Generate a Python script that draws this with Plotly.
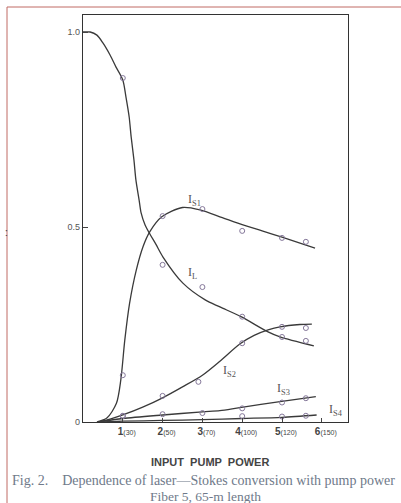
import plotly.graph_objects as go

# ---- data ----
tick_vals = [1, 2, 3, 4, 5, 6]
tick_main = ["1", "2", "3", "4", "5", "6"]
tick_sub = ["(30)", "(50)", "(70)", "(100)", "(120)", "(150)"]

# smooth curves (traced points)
IL_x = [0, 0.18, 0.35, 0.5, 0.68, 0.83, 1.0, 1.08, 1.16, 1.21, 1.28, 1.33, 1.41, 1.46, 1.56, 1.68,
        1.83, 2.01, 2.51, 3.07, 3.44, 3.97, 4.65, 4.95, 5.8]
IL_y = [1.0, 1.0, 0.992, 0.972, 0.941, 0.91, 0.877, 0.833, 0.782, 0.731, 0.672, 0.62, 0.569, 0.536,
        0.505, 0.482, 0.456, 0.423, 0.356, 0.313, 0.295, 0.27, 0.231, 0.218, 0.195]

IS1_x = [0.35, 0.6, 0.84, 0.95, 1.05, 1.17, 1.34, 1.51, 1.68, 1.98, 2.5, 2.94, 3.5, 4.0, 4.5, 5.0, 5.83]
IS1_y = [0.0, 0.01, 0.048, 0.108, 0.21, 0.304, 0.39, 0.45, 0.488, 0.526, 0.55, 0.544, 0.524, 0.506, 0.49, 0.474, 0.446]

IS2_x = [0.4, 0.7, 1.0, 1.5, 2.0, 2.5, 3.0, 3.44, 3.94, 4.3, 4.65, 4.95, 5.45, 5.75]
IS2_y = [0.0, 0.008, 0.018, 0.038, 0.062, 0.09, 0.12, 0.156, 0.2, 0.222, 0.236, 0.244, 0.25, 0.251]

IS3_x = [0.38, 1.0, 2.0, 3.0, 3.44, 3.94, 4.95, 5.85]
IS3_y = [0.0, 0.009, 0.018, 0.026, 0.029, 0.037, 0.052, 0.065]

IS4_x = [0.45, 1.0, 2.0, 3.0, 4.0, 5.0, 5.87]
IS4_y = [0.0, 0.002, 0.004, 0.006, 0.009, 0.012, 0.018]

# measured points (open circles)
IL_px = [1, 2, 3, 4, 5, 5.6]
IL_py = [0.882, 0.403, 0.346, 0.27, 0.218, 0.208]
IS1_px = [1, 2, 3, 4, 5, 5.6]
IS1_py = [0.12, 0.528, 0.546, 0.49, 0.472, 0.462]
IS2_px = [1, 2, 2.9, 4, 5, 5.6]
IS2_py = [0.016, 0.067, 0.103, 0.202, 0.244, 0.241]
IS3_px = [1, 2, 3, 4, 5, 5.6]
IS3_py = [0.015, 0.02, 0.023, 0.035, 0.05, 0.061]
IS4_px = [4, 5, 5.6]
IS4_py = [0.015, 0.014, 0.016]

labels = ["I<sub>S1</sub>", "I<sub>L</sub>", "I<sub>S2</sub>", "I<sub>S3</sub>", "I<sub>S4</sub>"]
label_x = [2.81, 2.74, 3.67, 5.03, 6.36]
label_y = [0.57, 0.382, 0.131, 0.085, 0.031]

W, H = 401, 503
L, R, T, B = 83, 53, 15, 81
PW, PH = W - L - R, H - T - B

LINE = "#3a3a3a"
MK = "#85789a"

fig = go.Figure()
for xs, ys in [(IL_x, IL_y), (IS1_x, IS1_y), (IS2_x, IS2_y), (IS3_x, IS3_y), (IS4_x, IS4_y)]:
    fig.add_trace(go.Scatter(x=xs, y=ys, mode="lines",
                             line=dict(color=LINE, width=1.3, shape="spline", smoothing=0.8),
                             showlegend=False, hoverinfo="skip"))
for xs, ys in [(IL_px, IL_py), (IS1_px, IS1_py), (IS2_px, IS2_py), (IS3_px, IS3_py), (IS4_px, IS4_py)]:
    fig.add_trace(go.Scatter(x=xs, y=ys, mode="markers",
                             marker=dict(symbol="circle-open", size=5, color=MK, line=dict(width=1, color=MK)),
                             showlegend=False))

for t, x, y in zip(labels, label_x, label_y):
    fig.add_annotation(x=x, y=y, text=t, showarrow=False,
                       font=dict(family="Liberation Serif", size=12, color="#555"))

ticktext = [f"<b>{m}</b><span style='font-size:7px'>{s}</span>" for m, s in zip(tick_main, tick_sub)]

fig.update_xaxes(range=[0, PW / 39.8], tickvals=tick_vals, ticktext=ticktext,
                 ticks="inside", ticklen=4, tickcolor="#444", showline=True, linecolor="#333",
                 linewidth=1.2, mirror=True, showgrid=False, zeroline=False,
                 ticklabelshift=4,
                 tickfont=dict(family="Liberation Sans", size=10, color="#444"))
fig.update_yaxes(range=[0, PH / 390.0], tickvals=[0, 0.5, 1.0], ticktext=["0", "0.5", "1.0"],
                 ticks="inside", ticklen=5, tickcolor="#444", showline=True, linecolor="#333",
                 linewidth=1.2, mirror=True, showgrid=False, zeroline=False,
                 tickfont=dict(family="Liberation Sans", size=9, color="#555"))

def px(xp):
    return (xp - L) / PW

def py(yp):
    return 1 - (yp - T) / PH

# x-axis title
fig.add_annotation(xref="paper", yref="paper", x=px(210), y=py(462), yanchor="middle",
                   text="<b>INPUT  PUMP  POWER</b>",
                   showarrow=False, font=dict(family="Liberation Sans", size=11, color="#444"))
# caption
fig.add_annotation(xref="paper", yref="paper", x=px(10), y=py(480), xanchor="left", yanchor="middle",
                   text="Fig. 2.    Dependence of laser\u2014Stokes conversion with pump power",
                   showarrow=False, font=dict(family="Liberation Serif", size=14, color="#6f7a8a"))
fig.add_annotation(xref="paper", yref="paper", x=px(148), y=py(496.5), xanchor="left", yanchor="middle",
                   text="Fiber 5, 65-m length",
                   showarrow=False, font=dict(family="Liberation Serif", size=13.5, color="#6f7a8a"))
fig.add_annotation(xref="paper", yref="paper", x=px(3), y=py(232), yanchor="middle", text=":",
                   showarrow=False, font=dict(family="Liberation Sans", size=10, color="#333"))

# scan border
fig.add_shape(type="line", xref="paper", yref="paper", x0=px(7), x1=px(7), y0=py(7), y1=py(503),
              line=dict(color="#c06a64", width=1))
fig.add_shape(type="line", xref="paper", yref="paper", x0=px(7), x1=px(401), y0=py(7), y1=py(7),
              line=dict(color="#c06a64", width=1))

fig.update_layout(width=W, height=H, margin=dict(l=L, r=R, t=T, b=B),
                  paper_bgcolor="white", plot_bgcolor="white", showlegend=False)

fig.write_html("out.html")
